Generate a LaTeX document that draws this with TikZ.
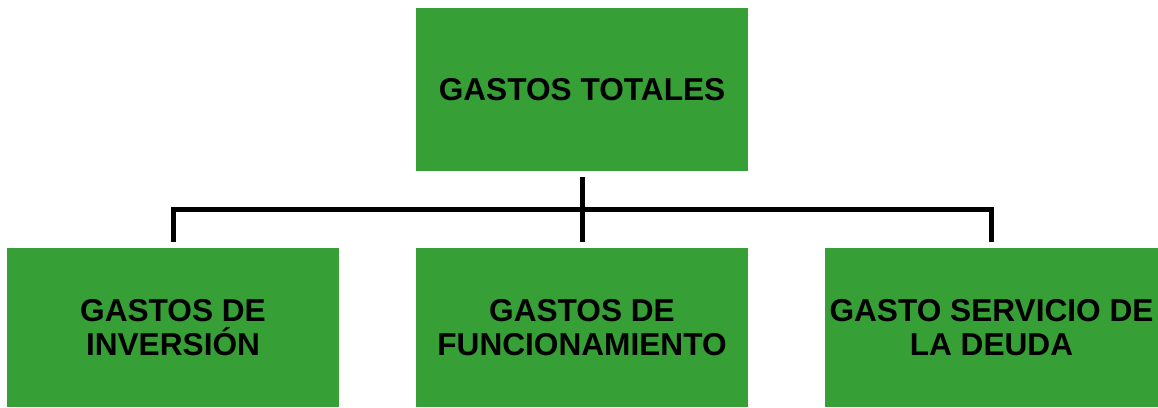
\documentclass[tikz,border=0pt]{standalone}
\usepackage{fontspec}
\setmainfont{Liberation Sans}
\usetikzlibrary{calc}
\definecolor{verde}{RGB}{54,159,54}

\begin{document}
\begin{tikzpicture}[x=0.02cm,y=-0.02cm,
    caja/.style={fill=verde,draw=none,inner sep=0pt,align=center,
      minimum width=6.64cm,minimum height=3.18cm,
      font=\fontsize{18}{19.5}\selectfont\bfseries},
    enlace/.style={line width=0.1cm,black,shorten <=0.12cm,shorten >=0.12cm}]
    \useasboundingbox (0,0) rectangle (1158,407);
    \node[caja,minimum height=3.26cm] (total) at (582,89.5) {GASTOS TOTALES};
    \node[caja] (inversion) at (173,327.5) {GASTOS DE\\INVERSIÓN};
    \node[caja] (funcion) at (582,327.5) {GASTOS DE\\FUNCIONAMIENTO};
    \node[caja,minimum width=6.66cm] (deuda) at (991.5,327.5) {GASTO SERVICIO DE\\LA DEUDA};
    % lineas
    \draw[enlace] (total.south) -- (funcion.north);
    \draw[enlace] (inversion.north) |- ($(total.south)!0.5!(funcion.north)$) -| (deuda.north);
\end{tikzpicture}
\end{document}
